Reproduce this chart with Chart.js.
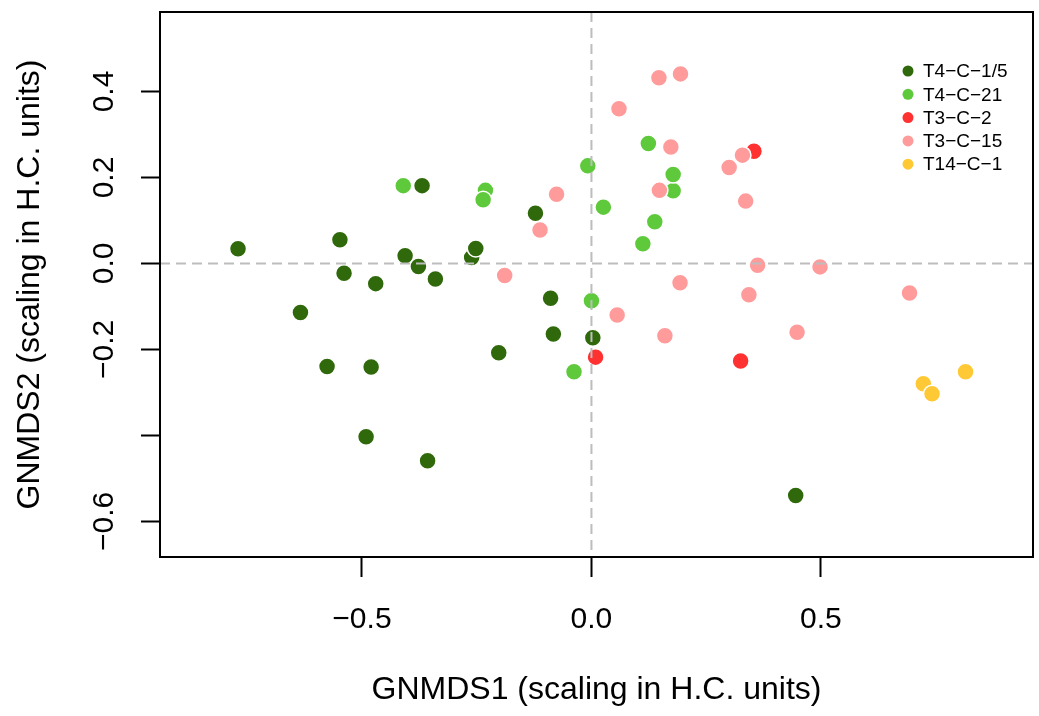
<!DOCTYPE html>
<html>
<head>
<meta charset="utf-8">
<script src="https://cdn.jsdelivr.net/npm/chart.js@4.4.0/dist/chart.umd.min.js"></script>
<style>
  html, body { margin: 0; padding: 0; background: #fff; }
  #wrap { width: 1039px; height: 716px; }
</style>
</head>
<body>
<div id="wrap"><canvas id="chart"></canvas></div>
<script>
// groups, legend order
const groups = ['T4\u2212C\u22121/5', 'T4\u2212C\u221221', 'T3\u2212C\u22122', 'T3\u2212C\u221215', 'T14\u2212C\u22121'];
const colors = ['#2f690b', '#5fc93c', '#ff3131', '#ff9b9b', '#ffc935'];
const drawOrder = [4, 3, 2, 0, 1]; // pink ends up on top

// GNMDS scores
const t415X = [-0.770, -0.548, -0.539, -0.470, -0.369, -0.406, -0.377, -0.340, -0.261, -0.252, -0.122, -0.089, -0.634, -0.083, 0.003, -0.202, -0.576, -0.480, -0.491, -0.357, 0.445];
const t415Y = [0.034, 0.055, -0.023, -0.047, 0.181, 0.018, -0.007, -0.036, 0.014, 0.035, 0.117, -0.081, -0.114, -0.164, -0.173, -0.208, -0.240, -0.241, -0.403, -0.459, -0.540];
const t421X = [-0.410, -0.231, -0.236, -0.008, 0.026, 0.124, 0.178, 0.178, 0.138, 0.112, 0.000, -0.038];
const t421Y = [0.181, 0.170, 0.148, 0.227, 0.131, 0.279, 0.169, 0.207, 0.097, 0.046, -0.087, -0.252];
const t32X = [0.354, 0.009, 0.325];
const t32Y = [0.261, -0.218, -0.227];
const t315X = [0.147, 0.194, 0.060, 0.173, 0.148, 0.329, 0.300, 0.336, 0.362, 0.498, -0.076, -0.112, -0.189, 0.193, 0.343, 0.693, 0.056, 0.160, 0.448];
const t315Y = [0.432, 0.441, 0.360, 0.271, 0.170, 0.252, 0.223, 0.145, -0.004, -0.008, 0.161, 0.078, -0.028, -0.045, -0.073, -0.069, -0.120, -0.168, -0.160];
const t141X = [0.723, 0.742, 0.815];
const t141Y = [-0.280, -0.303, -0.252];

const xTicks = [-0.5, 0, 0.5];
const xTickLabels = ['\u22120.5', '0.0', '0.5'];
const yTicks = [-0.6, -0.4, -0.2, 0, 0.2, 0.4];
const yTickLabels = ['\u22120.6', '', '\u22120.2', '0.0', '0.2', '0.4']; // -0.4 dropped like in R

const seriesX = [t415X, t421X, t32X, t315X, t141X];
const seriesY = [t415Y, t421Y, t32Y, t315Y, t141Y];

const FONT = '"Liberation Sans", Arial, sans-serif';

// zero lines, box, and the small legend inside the plot
const decor = {
  id: 'decor',
  afterDatasetsDraw(chart) {
    const { ctx, chartArea: a, scales: { x, y } } = chart;
    const x0 = x.getPixelForValue(0), y0 = y.getPixelForValue(0);
    ctx.save();
    ctx.strokeStyle = '#bdbdbd';
    ctx.lineWidth = 2;
    ctx.setLineDash([10, 6]);
    ctx.beginPath();
    ctx.moveTo(x0, a.top); ctx.lineTo(x0, a.bottom);
    ctx.moveTo(a.left, y0); ctx.lineTo(a.right, y0);
    ctx.stroke();
    ctx.setLineDash([]);
    ctx.strokeStyle = '#000';
    ctx.strokeRect(a.left, a.top, a.right - a.left, a.bottom - a.top);

    ctx.font = '19px ' + FONT;
    ctx.textBaseline = 'middle';
    ctx.textAlign = 'left';
    chart.data.datasets.forEach((ds, i) => {
      const cy = 71 + i * 23.3;
      ctx.fillStyle = ds.backgroundColor;
      ctx.beginPath();
      ctx.arc(908, cy, 5.5, 0, Math.PI * 2);
      ctx.fill();
      ctx.fillStyle = '#000';
      ctx.fillText(ds.label, 923, cy + 1);
    });
    ctx.restore();
  }
};

const datasets = groups.map((g, i) => ({
  label: g,
  data: seriesX[i].map((v, k) => ({ x: v, y: seriesY[i][k] })),
  backgroundColor: colors[i],
  borderColor: '#fff',
  borderWidth: 1.5,
  pointRadius: 8.5,
  pointHoverRadius: 8.5,
  order: drawOrder[i]
}));

new Chart(document.getElementById('chart'), {
  type: 'scatter',
  data: { datasets },
  plugins: [decor],
  options: {
    responsive: true,
    maintainAspectRatio: false,
    animation: false,
    events: [],
    layout: { autoPadding: false, padding: { top: 12, right: 6, left: 0, bottom: 0 } },
    plugins: { legend: { display: false }, tooltip: { enabled: false } },
    scales: {
      x: {
        type: 'linear',
        min: -0.940,
        max: 0.962,
        afterBuildTicks: s => { s.ticks = xTicks.map(v => ({ value: v })); },
        afterFit: s => { s.height = 159; s.paddingLeft = 0; s.paddingRight = 0; },
        border: { display: false },
        grid: { drawOnChartArea: false, drawTicks: true, tickLength: 20, tickColor: '#000', tickWidth: 2 },
        ticks: {
          autoSkip: false, maxRotation: 0, minRotation: 0,
          padding: 25, color: '#000',
          font: { family: FONT, size: 30 },
          callback: (v, i) => xTickLabels[i]
        },
        title: {
          display: true, text: 'GNMDS1 (scaling in H.C. units)', color: '#000',
          font: { family: FONT, size: 32 }, padding: { top: 0, bottom: 7 }
        }
      },
      y: {
        type: 'linear',
        min: -0.683,
        max: 0.585,
        afterBuildTicks: s => { s.ticks = yTicks.map(v => ({ value: v })); },
        afterFit: s => { s.width = 160; s.paddingTop = 0; s.paddingBottom = 0; },
        border: { display: false },
        grid: { drawOnChartArea: false, drawTicks: true, tickLength: 19, tickColor: '#000', tickWidth: 2 },
        ticks: {
          autoSkip: false, minRotation: 90, maxRotation: 90, crossAlign: 'center',
          padding: 7, color: '#000',
          font: { family: FONT, size: 30 },
          callback: (v, i) => yTickLabels[i]
        },
        title: {
          display: true, text: 'GNMDS2 (scaling in H.C. units)', color: '#000',
          font: { family: FONT, size: 32 }, padding: { top: 11, bottom: 0 }
        }
      }
    }
  }
});
</script>
</body>
</html>
